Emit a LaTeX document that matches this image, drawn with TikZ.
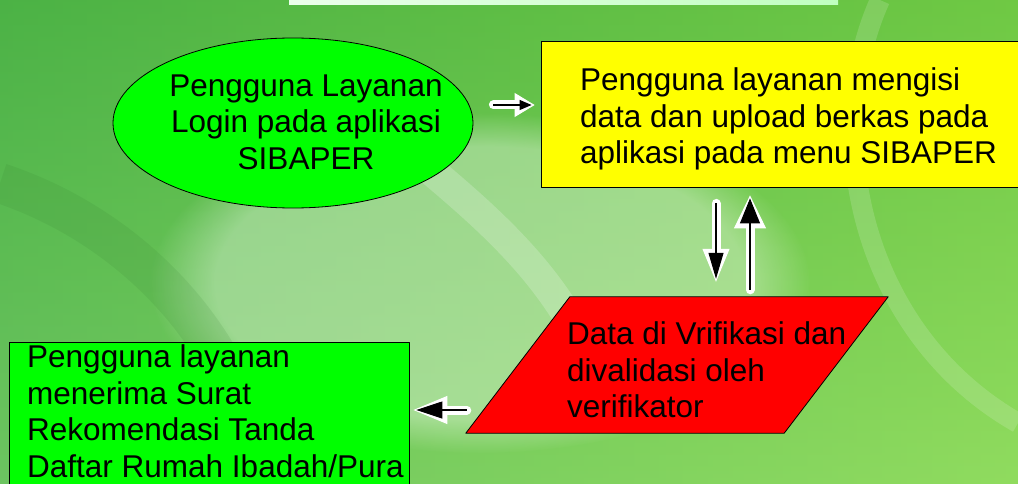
\documentclass[tikz,border=0pt]{standalone}
\usepackage{fontspec}
\setmainfont{Liberation Sans}
\usetikzlibrary{arrows.meta,shapes.geometric,fadings}
\definecolor{bgleft}{RGB}{70,175,65}
\definecolor{bgmid}{RGB}{155,224,135}
\definecolor{bgright}{RGB}{135,216,62}
\definecolor{boxgreen}{RGB}{0,255,0}
\definecolor{boxyellow}{RGB}{255,255,0}
\definecolor{boxred}{RGB}{255,0,0}
\tikzset{
  box/.style={draw=black,line width=0.8pt,inner sep=0pt},
  txt/.style={font=\fontsize{31.5}{36.5}\selectfont,inner sep=0pt,align=left},
  flowwhite/.style={draw=white,line width=9pt,line cap=round},
  flowblack/.style={draw=black,line width=1.8pt,shorten >=3pt},
}
\begin{document}
\begin{tikzpicture}[x=1pt,y=1pt,line join=round]
		\useasboundingbox (0,0) rectangle (1018,483) ;
		\clip (0,0) rectangle (1018,483) ;
		% background
		\shade[left color=bgleft,middle color=bgmid,right color=bgright] (0,0) rectangle (1018,483) ;
		\shade[top color=bgleft!85!bgmid,bottom color=bgmid,opacity=0.45] (0,0) rectangle (1018,483) ;
		\fill[white,opacity=0.35,path fading=circle with fuzzy edge 20 percent] (480,200) ellipse[x radius=330,y radius=170] ;
		\draw[white,opacity=0.2,line width=30pt,path fading=circle with fuzzy edge 15 percent] (250,483) .. controls (400,300) and (600,250) .. (620,0) ;
		\draw[bgleft!70!black,opacity=0.12,line width=40pt] (0,300) .. controls (150,250) and (250,120) .. (260,0) ;
		\draw[white,opacity=0.15,line width=20pt] (880,483) .. controls (820,350) and (860,150) .. (1018,60) ;
		\shade[left color=white!92!green,right color=green!25!white] (289,478) rectangle (838,483) ;
		% boxes
		\node[box,ellipse,fill=boxgreen,minimum width=360,minimum height=170] (login) at (293,360) {} ;
		\node[box,rectangle,fill=boxyellow,minimum width=477,minimum height=146] (isi) at (779.5,369) {} ;
		\node[inner sep=0pt,minimum width=318,minimum height=136] (verif) at (677,118) {} ;
		\filldraw[box,fill=boxred] ([xshift=52pt]verif.north west) -- ([xshift=52pt]verif.north east)
			-- ([xshift=-52pt]verif.south east) -- ([xshift=-52pt]verif.south west) -- cycle ;
		\node[box,rectangle,fill=boxgreen,minimum width=400,minimum height=151] (terima) at (209,65.5) {} ;
		% texts
		\node[txt,align=center] (loginText) at (306,361) {Pengguna Layanan\\Login pada aplikasi\\SIBAPER} ;
		\node[txt,anchor=west] (isiText) at (580,364) {Pengguna layanan mengisi\\data dan upload berkas pada\\aplikasi pada menu SIBAPER} ;
		\node[txt,anchor=west] (verifText) at (567,113) {Data di Vrifikasi dan\\divalidasi oleh\\verifikator} ;
		\node[txt,anchor=west] (terimaText) at (27,72) {Pengguna layanan\\menerima Surat\\Rekomendasi Tanda\\Daftar Rumah Ibadah/Pura} ;
		% arrows
		\coordinate (a1) at ([xshift=20pt,yshift=18pt]login.east) ; \coordinate (b1) at ([xshift=-6pt,yshift=9pt]isi.west) ;
		\coordinate (a2) at ([xshift=-63.5pt,yshift=-16pt]isi.south) ; \coordinate (b2) at ([xshift=39pt,yshift=15pt]verif.north) ;
		\coordinate (a3) at ([xshift=73pt,yshift=7pt]verif.north) ; \coordinate (b3) at ([xshift=-29.5pt,yshift=-8pt]isi.south) ;
		\coordinate (a4) at ([xshift=-51pt,yshift=-45pt]verif.west) ; \coordinate (b4) at ([xshift=4pt,yshift=7.5pt]terima.east) ;
		\foreach \a/\b/\bl/\bw/\wl/\ww in {a1/b1/12pt/10pt/20pt/24pt,a2/b2/26pt/15pt/33pt/27pt,a3/b3/25pt/20pt/33pt/32pt,a4/b4/26pt/17pt/34pt/28pt}
		{
			\draw[flowwhite,-{Triangle[length=\wl,width=\ww,line width=1pt]}] (\a) -- (\b) ;
			\draw[flowblack,-{Triangle[length=\bl,width=\bw,line width=1pt]}] (\a) -- (\b) ;
		}
	\end{tikzpicture}
\end{document}
